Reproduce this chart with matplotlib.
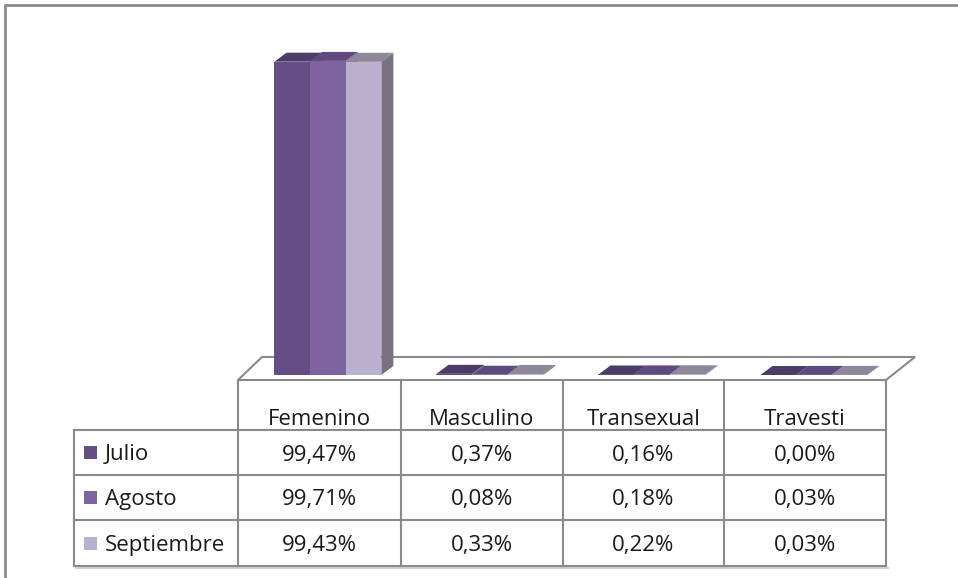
import matplotlib.pyplot as plt
from matplotlib.patches import Polygon, Rectangle

# datos
categorias = ['Femenino', 'Masculino', 'Transexual', 'Travesti']
meses = ['Julio', 'Agosto', 'Septiembre']
julio = [99.47, 0.37, 0.16, 0.00]
agosto = [99.71, 0.08, 0.18, 0.03]
septiembre = [99.43, 0.33, 0.22, 0.03]
series = [julio, agosto, septiembre]

# colores: frente, tapa y costado de cada serie
col_frente = ['#654e86', '#7f63a1', '#bab1ce']
col_tapa = ['#4e3c68', '#5f4a7d', '#8d8799']
col_lado = '#78717f'
gris = '#8a8a8a'
fuente = 'Open Sans'
tam = 16
negro = '#1a1a1a'

W, H = 958, 578
fig = plt.figure(figsize=(W / 100, H / 100), dpi=100)
fig.patch.set_facecolor('white')

# eje en pixeles para marco, piso y tabla
pix = fig.add_axes([0, 0, 1, 1])
pix.set_xlim(0, W)
pix.set_ylim(H, 0)
pix.axis('off')

# marco exterior (solo arriba e izquierda visibles)
pix.plot([5, 5, W], [H, 5, 5], color=gris, lw=2, solid_capstyle='butt')

# piso 3D
piso = Polygon([(238, 380), (886, 380), (915, 357), (262, 357)], closed=True,
               facecolor='white', edgecolor=gris, lw=1.5)
pix.add_patch(piso)

# tabla de datos
col_x = [238, 401, 563, 724, 886]
fila_y = [430, 475, 520, 566]
izq = 74
pix.plot([izq + 2, col_x[-1] + 2], [fila_y[-1] + 2, fila_y[-1] + 2], color='#d0d0d0', lw=1.5)
for x in col_x:
    pix.plot([x, x], [380, fila_y[-1]], color=gris, lw=1.5)
pix.plot([izq, izq], [fila_y[0], fila_y[-1]], color=gris, lw=1.5)
for y in fila_y:
    pix.plot([izq, col_x[-1]], [y, y], color=gris, lw=1.5)

for i, cat in enumerate(categorias):
    cx = (col_x[i] + col_x[i + 1]) / 2
    pix.text(cx, 425, cat, ha='center', va='baseline', fontsize=tam,
             family=fuente, color=negro)

for j, mes in enumerate(meses):
    cy = (fila_y[j] + fila_y[j + 1]) / 2
    pix.add_patch(Rectangle((84, cy - 6.5), 13, 13, facecolor=col_frente[j], edgecolor='none'))
    pix.text(105, cy + 8, mes, ha='left', va='baseline', fontsize=tam, family=fuente, color=negro)
    for i in range(len(categorias)):
        cx = (col_x[i] + col_x[i + 1]) / 2
        txt = f"{series[j][i]:.2f}%".replace('.', ',')
        pix.text(cx, cy + 8, txt, ha='center', va='baseline', fontsize=tam,
                 family=fuente, color=negro)

# eje de barras: 0 en el piso, 100 arriba
y0_px, y100_px = 375, 60
ax = fig.add_axes([238 / W, (H - y0_px) / H, (886 - 238) / W, (y0_px - y100_px) / H])
ax.set_xlim(0, len(categorias))
ax.set_ylim(0, 100)
ax.axis('off')

ancho = 0.22
inicio = 0.225
dx = 12 / 162.0
dy = 9 * 100 / 315.0

for j, vals in enumerate(series):
    xs = [i + inicio + j * ancho for i in range(len(categorias))]
    ax.bar(xs, vals, width=ancho, align='edge', color=col_frente[j],
           zorder=3 + 3 * j, clip_on=False, linewidth=0)
    for x0, h in zip(xs, vals):
        x1 = x0 + ancho
        lado = Polygon([(x1, 0), (x1 + dx, dy), (x1 + dx, h + dy), (x1, h)],
                       closed=True, facecolor=col_lado, edgecolor='none',
                       zorder=1 + 3 * j, clip_on=False)
        tapa = Polygon([(x0, h), (x1, h), (x1 + dx, h + dy), (x0 + dx, h + dy)],
                       closed=True, facecolor=col_tapa[j], edgecolor='none',
                       zorder=2 + 3 * j, clip_on=False)
        ax.add_patch(lado)
        ax.add_patch(tapa)

fig.savefig('out.png', dpi=100, facecolor='white')
